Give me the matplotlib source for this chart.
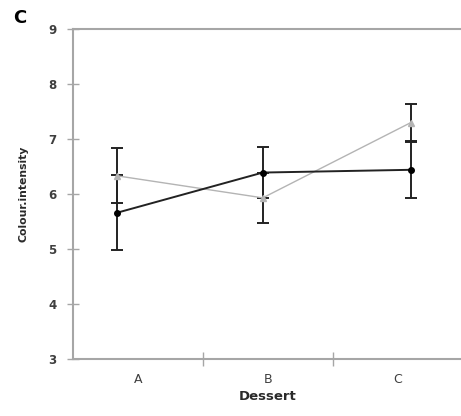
import matplotlib
matplotlib.use("Agg")
import matplotlib.pyplot as plt
import numpy as np

# dessert categories and the two series (mean +/- error)
desserts = ['A', 'B', 'C']
x_pos = [0.34, 1.46, 2.60]          # where the points sit along the category axis

black_mean = [5.66, 6.39, 6.44]
black_err = [0.68, 0.46, 0.51]

grey_mean = [6.33, 5.93, 7.30]
grey_err = [0.50, 0.45, 0.34]

y_ticks = [3, 4, 5, 6, 7, 8, 9]

fig = plt.figure(figsize=(4.61, 4.16), dpi=100)
ax = fig.add_axes([73 / 461, 57 / 416, 390 / 461, 330 / 416])

spine_col = '#a6a6a6'
text_col = '#3f3f3f'

# grey series first, black on top
ax.plot(x_pos, grey_mean, color='#b4b4b4', lw=1.0, marker='^', ms=4,
        mfc='#b4b4b4', mec='#b4b4b4', zorder=3)
ax.errorbar(x_pos, grey_mean, yerr=grey_err, fmt='none', ecolor='#222222',
            elinewidth=1.4, capsize=4, capthick=1.4, zorder=2)

ax.plot(x_pos, black_mean, color='#222222', lw=1.4, marker='o', ms=4,
        mfc='black', mec='black', zorder=4)
ax.errorbar(x_pos, black_mean, yerr=black_err, fmt='none', ecolor='#222222',
            elinewidth=1.4, capsize=4, capthick=1.4, zorder=2)

ax.set_xlim(0, 3)
ax.set_ylim(3, 9)

ax.set_yticks(y_ticks)
ax.set_yticklabels([str(t) for t in y_ticks], fontweight='bold', color=text_col, fontsize=8.5)
ax.tick_params(axis='y', direction='inout', length=8, width=1, color=spine_col, pad=8)

ax.set_xticks(np.arange(len(desserts)) + 0.5)
ax.set_xticklabels(desserts, color=text_col, fontsize=9)
ax.tick_params(axis='x', which='major', length=0, pad=10)
ax.set_xticks([1, 2], minor=True)
ax.tick_params(axis='x', which='minor', direction='inout', length=10, width=1, color=spine_col)

for side in ['left', 'bottom', 'top']:
    ax.spines[side].set_color(spine_col)
    ax.spines[side].set_linewidth(1.5)
ax.spines['right'].set_visible(False)

ax.set_xlabel('Dessert', fontweight='bold', fontsize=9.5, color='#2a2a2a', labelpad=3)
ax.set_ylabel('Colour.intensity', fontweight='bold', fontsize=7.8, color='#2a2a2a', labelpad=14)

fig.text(20 / 461, 1 - 18 / 416, 'C', fontsize=13, fontweight='bold', ha='center', va='center')

fig.savefig('out.png', dpi=100)
